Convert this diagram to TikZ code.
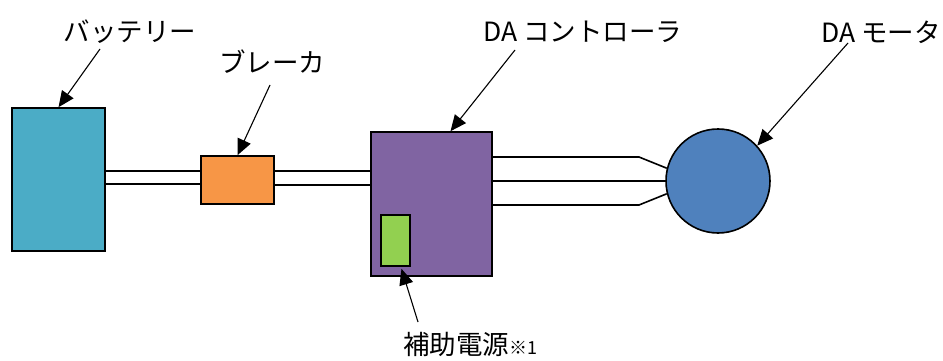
\documentclass[tikz,border=0pt]{standalone}
\usepackage{fontspec}
\setmainfont{Noto Sans CJK JP}
\usetikzlibrary{arrows.meta,calc}
\definecolor{cbat}{HTML}{4BACC6}
\definecolor{cbrk}{HTML}{F79646}
\definecolor{cctl}{HTML}{8064A2}
\definecolor{caux}{HTML}{92D050}
\definecolor{cmot}{HTML}{4F81BD}
\tikzset{
  part/.style={draw=black, line width=1.6pt, inner sep=0pt, rectangle},
  wire/.style={draw=black, line width=1.6pt},
  lbl/.style={font=\fontsize{26.5}{28}\selectfont, inner sep=0pt},
  pointer/.style={draw=black, line width=1.1pt, -{Triangle[length=16pt,width=14pt]}}
}
\begin{document}
\begin{tikzpicture}[x=1pt,y=-1pt]
\useasboundingbox (0,0) rectangle (943,361);
% parts
\node[part, fill=cbat, minimum width=93pt, minimum height=143pt] (bat) at (58.5,179.5) {};
\node[part, fill=cbrk, minimum width=73pt, minimum height=48pt] (brk) at (237.5,180) {};
\node[part, fill=cctl, minimum width=121pt, minimum height=144pt] (ctl) at (431.5,204) {};
\node[part, fill=caux, minimum width=29pt, minimum height=51pt] (aux) at (395.5,240.5) {};
\node[draw=black, line width=1.6pt, fill=cmot, circle, minimum size=104pt, inner sep=0pt] (mot) at (718,181) {};
% wires
\draw[wire] (bat.east |- 0,171) -- (brk.west |- 0,171);
\draw[wire] (bat.east |- 0,184) -- (brk.west |- 0,184);
\draw[wire] (brk.east |- 0,171) -- (ctl.west |- 0,171);
\draw[wire] (brk.east |- 0,185) -- (ctl.west |- 0,185);
\coordinate (k1) at (639,157);
\coordinate (k3) at (639,205);
\draw[wire] (ctl.east |- k1) -- (k1) -- (mot.166);
\draw[wire] (ctl.east |- mot.west) -- (mot.west);
\draw[wire] (ctl.east |- k3) -- (k3) -- (mot.194);
% labels
\node[lbl] (tbat) at (130,32) {バッテリー};
\node[lbl] (tbrk) at (272,62) {ブレーカ};
\node[lbl] (tctl) at (583,32) {DA コントローラ};
\node[lbl] (tmot) at (881,32) {DA モータ};
\node[lbl] (taux) at (470,344) {補助電源\fontsize{18}{20}\selectfont※1};
% pointers
\coordinate (s1) at (100,49);
\coordinate (s2) at (270,85);
\coordinate (s3) at (515,50);
\coordinate (s4) at (848,43);
\coordinate (s5) at (418,322);
\draw[pointer] (s1) -- (bat.north);
\draw[pointer] (s2) -- (brk.north);
\draw[pointer] (s3) -- ($(ctl.north)+(19,0)$);
\draw[pointer] (s4) -- (mot.42);
\draw[pointer] (s5) -- ($(aux.south)+(6,2)$);
\end{tikzpicture}
\end{document}
